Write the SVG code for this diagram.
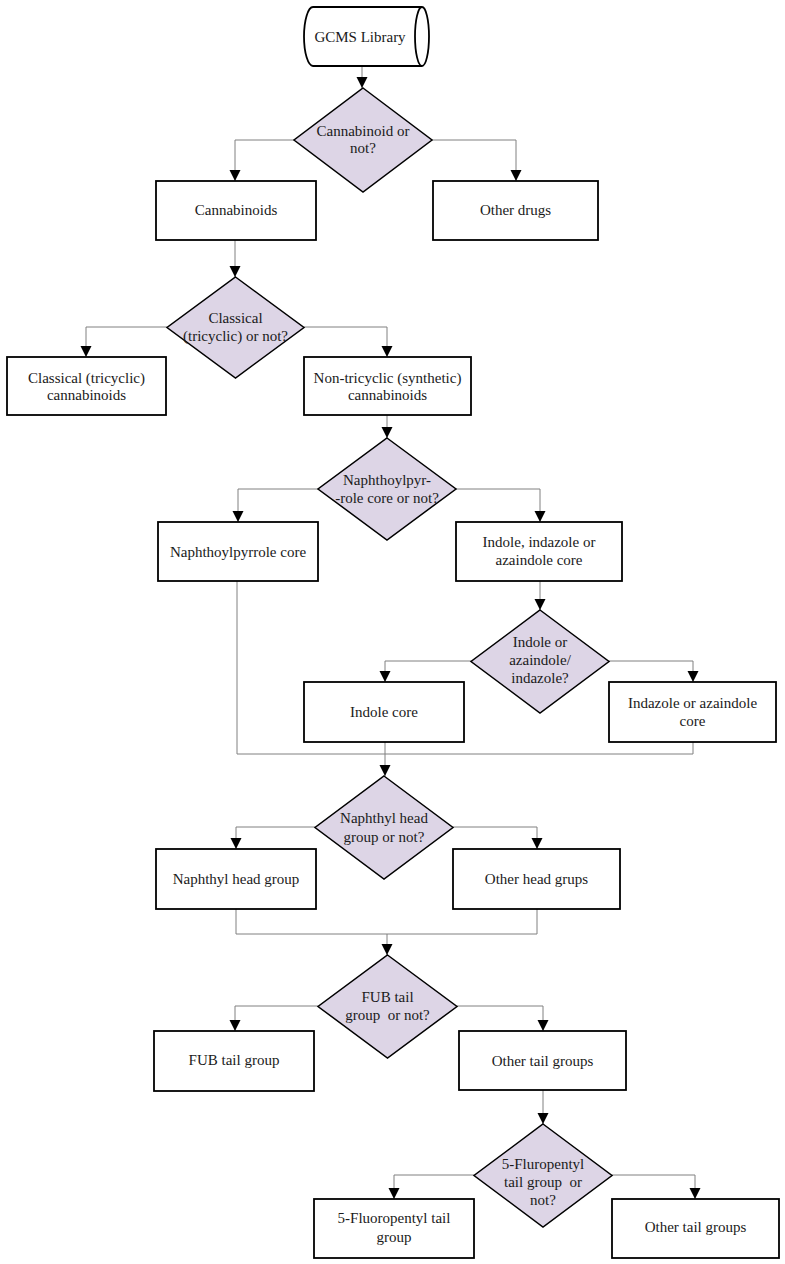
<svg xmlns="http://www.w3.org/2000/svg" width="785" height="1264" viewBox="0 0 785 1264">
<defs>
<marker id="arr" markerUnits="userSpaceOnUse" markerWidth="12" markerHeight="12" viewBox="0 0 12 12" refX="11" refY="6" orient="auto">
<path d="M0,0.5 L11,6 L0,11.5 Z" fill="#000"/>
</marker>
<style>
.box{fill:#fff;stroke:#000;stroke-width:1.8}
.dia{fill:#ddd5e6;stroke:#000;stroke-width:1.5}
.ln{fill:none;stroke:#808080;stroke-width:1}
.a{marker-end:url(#arr)}
text{font-family:"Liberation Serif","Times New Roman",serif;font-size:15px;fill:#1a1a1a;text-anchor:middle}
</style>
</defs>
<rect width="785" height="1264" fill="#fff"/>
<g id="connectors">
<path class="ln a" d="M362,66 V88"/>
<path class="ln a" d="M294,140 H235 V181"/>
<path class="ln a" d="M432,140 H516 V181"/>
<path class="ln a" d="M235,240 V277"/>
<path class="ln a" d="M167,327 H86 V357"/>
<path class="ln a" d="M304,327 H387 V357"/>
<path class="ln a" d="M387,415 V438"/>
<path class="ln a" d="M318,489 H238 V522"/>
<path class="ln a" d="M456,489 H540 V522"/>
<path class="ln a" d="M540,581 V610"/>
<path class="ln a" d="M471,661 H385 V682"/>
<path class="ln a" d="M609,661 H693 V682"/>
<path class="ln" d="M237,581 V754 H693 V742"/>
<path class="ln a" d="M385,742 V776"/>
<path class="ln a" d="M315,827 H236 V849"/>
<path class="ln a" d="M453,827 H537 V849"/>
<path class="ln" d="M236,909 V934 H537 V909"/>
<path class="ln a" d="M387,934 V955"/>
<path class="ln a" d="M318,1006 H235 V1031"/>
<path class="ln a" d="M457,1006 H543 V1031"/>
<path class="ln a" d="M543,1090 V1124"/>
<path class="ln a" d="M474,1175 H394 V1199"/>
<path class="ln a" d="M612,1175 H695 V1199"/>
</g>
<g id="gcms">
<path class="box" d="M422,7 H313 A9,29.5 0 0 0 313,66 H422"/>
<ellipse class="box" cx="422" cy="36.5" rx="7" ry="29.5"/>
<text x="360" y="42">GCMS Library</text>
</g>
<g id="d1">
<polygon class="dia" points="363,88 432,140 363,192 294,140"/>
<text x="363" y="136">Cannabinoid or</text>
<text x="363" y="153">not?</text>
</g>
<g id="cannabinoids">
<rect class="box" x="156" y="181" width="160" height="59"/>
<text x="236" y="215">Cannabinoids</text>
</g>
<g id="otherdrugs">
<rect class="box" x="433" y="181" width="165" height="59"/>
<text x="515.5" y="215">Other drugs</text>
</g>
<g id="d2">
<polygon class="dia" points="235.5,277 304,327.5 235.5,378 167,327.5"/>
<text x="235.5" y="323">Classical</text>
<text x="235.5" y="341">(tricyclic) or not?</text>
</g>
<g id="classical">
<rect class="box" x="7" y="357" width="159" height="58"/>
<text x="86.5" y="383">Classical (tricyclic)</text>
<text x="86.5" y="400">cannabinoids</text>
</g>
<g id="nontricyclic">
<rect class="box" x="304" y="357" width="167" height="58"/>
<text x="387.5" y="383">Non-tricyclic (synthetic)</text>
<text x="387.5" y="400">cannabinoids</text>
</g>
<g id="d3">
<polygon class="dia" points="387,438 456,489 387,540 318,489"/>
<text x="387" y="485">Naphthoylpyr-</text>
<text x="387" y="503">-role core or not?</text>
</g>
<g id="naphthoylpyrrole">
<rect class="box" x="158" y="522" width="160" height="59"/>
<text x="238" y="557">Naphthoylpyrrole core</text>
</g>
<g id="indolegroup">
<rect class="box" x="456" y="522" width="166" height="59"/>
<text x="539" y="547">Indole, indazole or</text>
<text x="539" y="565">azaindole core</text>
</g>
<g id="d4">
<polygon class="dia" points="540,610 609,661.5 540,713 471,661.5"/>
<text x="540" y="647">Indole or</text>
<text x="540" y="665">azaindole/</text>
<text x="540" y="683">indazole?</text>
</g>
<g id="indolecore">
<rect class="box" x="304" y="682" width="160" height="60"/>
<text x="384" y="717">Indole core</text>
</g>
<g id="indazolecore">
<rect class="box" x="609" y="682" width="167" height="60"/>
<text x="692.5" y="708">Indazole or azaindole</text>
<text x="692.5" y="726">core</text>
</g>
<g id="d5">
<polygon class="dia" points="384,776 453,827.5 384,879 315,827.5"/>
<text x="384" y="823">Naphthyl head</text>
<text x="384" y="842">group or not?</text>
</g>
<g id="naphthylhead">
<rect class="box" x="156" y="849" width="160" height="60"/>
<text x="236" y="884">Naphthyl head group</text>
</g>
<g id="otherhead">
<rect class="box" x="453" y="849" width="167" height="60"/>
<text x="536.5" y="884">Other head grups</text>
</g>
<g id="d6">
<polygon class="dia" points="387.5,955 457,1006.5 387.5,1058 318,1006.5"/>
<text x="387.5" y="1002">FUB tail</text>
<text x="387.5" y="1020" xml:space="preserve">group  or not?</text>
</g>
<g id="fubtail">
<rect class="box" x="154" y="1031" width="160" height="60"/>
<text x="234" y="1065">FUB tail group</text>
</g>
<g id="othertail1">
<rect class="box" x="459" y="1031" width="167" height="59"/>
<text x="542.5" y="1066">Other tail groups</text>
</g>
<g id="d7">
<polygon class="dia" points="543,1124 612,1175.5 543,1227 474,1175.5"/>
<text x="543" y="1169">5-Fluropentyl</text>
<text x="543" y="1187" xml:space="preserve">tail group  or</text>
<text x="543" y="1205">not?</text>
</g>
<g id="fluoropentyl">
<rect class="box" x="314" y="1199" width="160" height="59"/>
<text x="394" y="1223">5-Fluoropentyl tail</text>
<text x="394" y="1242">group</text>
</g>
<g id="othertail2">
<rect class="box" x="612" y="1199" width="167" height="59"/>
<text x="695.5" y="1232">Other tail groups</text>
</g>
</svg>
